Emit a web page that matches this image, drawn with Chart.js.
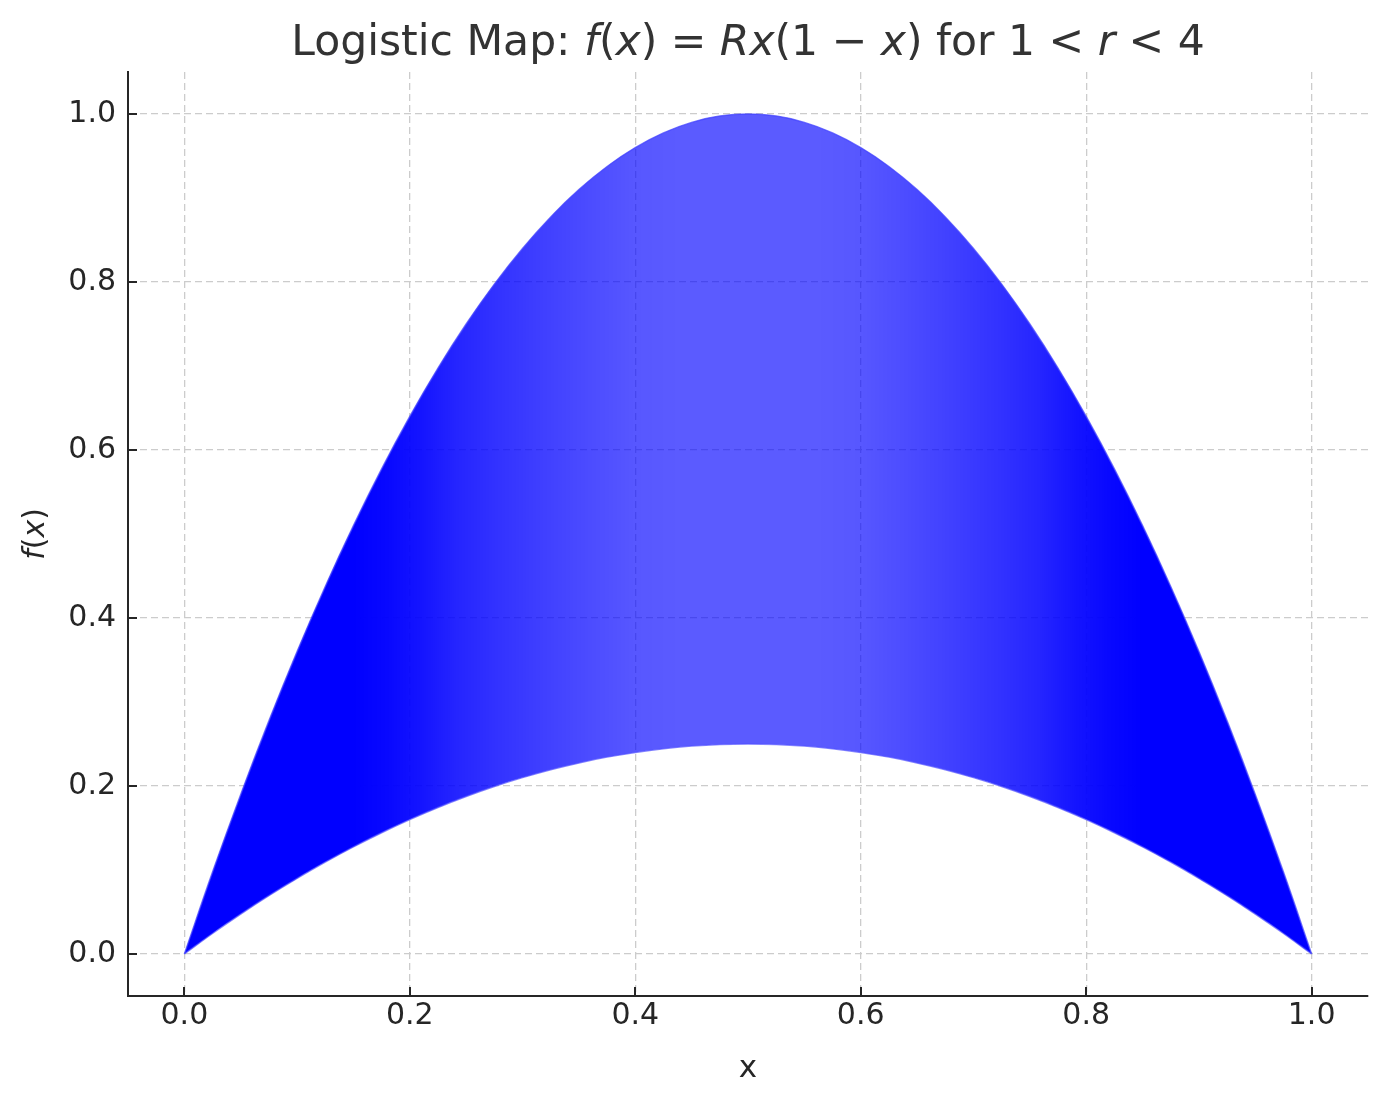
<!DOCTYPE html>
<html>
<head>
<meta charset="utf-8">
<title>Logistic Map</title>
<script src="https://cdn.jsdelivr.net/npm/chart.js@4.4.1/dist/chart.umd.min.js"></script>
<style>
	html, body { margin: 0; padding: 0; background: #ffffff; }
	#wrap { width: 1388px; height: 1103px; position: relative; }
</style>
</head>
<body>
<div id="wrap"><canvas id="logisticChart"></canvas></div>
<script>
// Logistic map band - curves for r = 1 (bottom edge) up to r = 4 (top edge)

// x sample points
const X_VALUES = [
	0.000, 0.025, 0.050, 0.075, 0.100, 0.125, 0.150, 0.175, 0.200, 0.225,
	0.250, 0.275, 0.300, 0.325, 0.350, 0.375, 0.400, 0.425, 0.450, 0.475,
	0.500, 0.525, 0.550, 0.575, 0.600, 0.625, 0.650, 0.675, 0.700, 0.725,
	0.750, 0.775, 0.800, 0.825, 0.850, 0.875, 0.900, 0.925, 0.950, 0.975,
	1.000
];

// lower edge of the band (r = 1)
const LOWER_R1 = [
	0.0000, 0.0244, 0.0475, 0.0694, 0.0900, 0.1094, 0.1275, 0.1444, 0.1600, 0.1744,
	0.1875, 0.1994, 0.2100, 0.2194, 0.2275, 0.2344, 0.2400, 0.2444, 0.2475, 0.2494,
	0.2500, 0.2494, 0.2475, 0.2444, 0.2400, 0.2344, 0.2275, 0.2194, 0.2100, 0.1994,
	0.1875, 0.1744, 0.1600, 0.1444, 0.1275, 0.1094, 0.0900, 0.0694, 0.0475, 0.0244,
	0.0000
];

// upper edge of the band (r = 4)
const UPPER_R4 = [
	0.0000, 0.0975, 0.1900, 0.2775, 0.3600, 0.4375, 0.5100, 0.5775, 0.6400, 0.6975,
	0.7500, 0.7975, 0.8400, 0.8775, 0.9100, 0.9375, 0.9600, 0.9775, 0.9900, 0.9975,
	1.0000, 0.9975, 0.9900, 0.9775, 0.9600, 0.9375, 0.9100, 0.8775, 0.8400, 0.7975,
	0.7500, 0.6975, 0.6400, 0.5775, 0.5100, 0.4375, 0.3600, 0.2775, 0.1900, 0.0975,
	0.0000
];

const X_TICKS = [0.0, 0.2, 0.4, 0.6, 0.8, 1.0];
const Y_TICKS = [0.0, 0.2, 0.4, 0.6, 0.8, 1.0];

// title / label pieces (italic = math variable)
const TITLE_PARTS = [
	{ text: 'Logistic Map: ' },
	{ text: 'f', italic: true }, { text: '(' }, { text: 'x', italic: true }, { text: ')' },
	{ text: ' = ' },
	{ text: 'Rx', italic: true }, { text: '(1 \u2212 ' }, { text: 'x', italic: true }, { text: ')' },
	{ text: ' for 1 < ' }, { text: 'r', italic: true }, { text: ' < 4' }
];
const YLABEL_PARTS = [
	{ text: 'f', italic: true }, { text: '(' }, { text: 'x', italic: true }, { text: ')' }
];

// shading of the band along x: [x position, opacity of blue]
const SHADE_STOPS = [
	[0.00, 1.0], [0.15, 1.0], [0.18, 0.97], [0.21, 0.92], [0.24, 0.86],
	[0.28, 0.80], [0.32, 0.75], [0.36, 0.70], [0.40, 0.66], [0.44, 0.645],
	[0.50, 0.645],
	[0.56, 0.645], [0.60, 0.66], [0.64, 0.70], [0.68, 0.75], [0.72, 0.80],
	[0.76, 0.86], [0.79, 0.92], [0.82, 0.97], [0.85, 1.0], [1.00, 1.0]
];

const FONT = '"DejaVu Sans", "Liberation Sans", sans-serif';
const TEXT_COLOR = '#262626';

let cachedGradient = null;
let cachedKey = '';

function bandFill(context) {
	const chart = context.chart;
	const area = chart.chartArea;
	if (!area) {
		return 'rgba(0, 0, 255, 0.8)';
	}
	const xScale = chart.scales.x;
	const x0 = xScale.getPixelForValue(0);
	const x1 = xScale.getPixelForValue(1);
	const key = x0 + ':' + x1;
	if (!cachedGradient || cachedKey !== key) {
		const g = chart.ctx.createLinearGradient(x0, 0, x1, 0);
		SHADE_STOPS.forEach(s => {
			g.addColorStop(s[0], 'rgba(0, 0, 255, ' + s[1] + ')');
		});
		cachedGradient = g;
		cachedKey = key;
	}
	return cachedGradient;
}

function drawRich(ctx, parts, cx, y, size, color, baseline) {
	const fontOf = p => (p.italic ? 'italic ' : '') + size + 'px ' + FONT;
	let total = 0;
	parts.forEach(p => {
		ctx.font = fontOf(p);
		total += ctx.measureText(p.text).width;
	});
	let x = cx - total / 2;
	ctx.fillStyle = color;
	ctx.textAlign = 'left';
	ctx.textBaseline = baseline || 'alphabetic';
	parts.forEach(p => {
		ctx.font = fontOf(p);
		ctx.fillText(p.text, x, y);
		x += ctx.measureText(p.text).width;
	});
}

// title, rotated y label and inward tick marks
const mathTextPlugin = {
	id: 'mathText',
	afterDraw(chart) {
		const ctx = chart.ctx;
		const area = chart.chartArea;
		const xs = chart.scales.x;
		const ys = chart.scales.y;

		ctx.save();
		ctx.strokeStyle = TEXT_COLOR;
		ctx.lineWidth = 2;
		ctx.beginPath();
		X_TICKS.forEach(v => {
			const px = Math.round(xs.getPixelForValue(v));
			ctx.moveTo(px, area.bottom);
			ctx.lineTo(px, area.bottom - 9);
		});
		Y_TICKS.forEach(v => {
			const py = Math.round(ys.getPixelForValue(v));
			ctx.moveTo(area.left, py);
			ctx.lineTo(area.left + 9, py);
		});
		ctx.stroke();

		drawRich(ctx, TITLE_PARTS, (area.left + area.right) / 2, 55, 42.5, '#333333');
		ctx.translate(36, (area.top + area.bottom) / 2);
		ctx.rotate(-Math.PI / 2);
		drawRich(ctx, YLABEL_PARTS, 0, 0, 30, TEXT_COLOR, 'middle');
		ctx.restore();
	}
};

function toPoints(ys) {
	return X_VALUES.map((x, i) => ({ x: x, y: ys[i] }));
}

function axisGrid() {
	return {
		color: '#cccccc',
		lineWidth: 1.3,
		drawTicks: false
	};
}

function axisBorder() {
	return { display: true, color: TEXT_COLOR, width: 2, dash: [7, 4] };
}

const ctx = document.getElementById('logisticChart').getContext('2d');

new Chart(ctx, {
	type: 'line',
	data: {
		datasets: [
			{
				label: 'r = 1',
				data: toPoints(LOWER_R1),
				borderColor: 'rgba(80, 80, 255, 0.7)',
				borderWidth: 1.5,
				pointRadius: 0,
				fill: false,
				tension: 0.4
			},
			{
				label: 'r = 4',
				data: toPoints(UPPER_R4),
				borderColor: 'rgba(70, 70, 255, 0.75)',
				borderWidth: 1.5,
				pointRadius: 0,
				fill: '-1',
				backgroundColor: bandFill,
				tension: 0.4
			}
		]
	},
	options: {
		responsive: true,
		maintainAspectRatio: false,
		animation: false,
		layout: {
			padding: { top: 72, right: 20, left: 0, bottom: 0 }
		},
		plugins: {
			legend: { display: false },
			title: { display: false },
			tooltip: { enabled: false }
		},
		scales: {
			x: {
				type: 'linear',
				min: -0.05,
				max: 1.05,
				afterBuildTicks: scale => {
					scale.ticks = X_TICKS.map(v => ({ value: v }));
				},
				afterFit: scale => { scale.height = 107; },
				grid: axisGrid(),
				border: axisBorder(),
				ticks: {
					padding: 2,
					color: TEXT_COLOR,
					font: { family: FONT, size: 30 },
					maxRotation: 0,
					callback: v => Number(v).toFixed(1)
				},
				title: {
					display: true,
					text: 'x',
					color: TEXT_COLOR,
					font: { family: FONT, size: 31 },
					padding: { top: 0, bottom: 15 }
				}
			},
			y: {
				type: 'linear',
				min: -0.05,
				max: 1.05,
				afterBuildTicks: scale => {
					scale.ticks = Y_TICKS.map(v => ({ value: v }));
				},
				afterFit: scale => { scale.width = 128; },
				grid: axisGrid(),
				border: axisBorder(),
				ticks: {
					padding: 12,
					color: TEXT_COLOR,
					font: { family: FONT, size: 30 },
					callback: v => Number(v).toFixed(1)
				}
			}
		}
	},
	plugins: [mathTextPlugin]
});
</script>
</body>
</html>
